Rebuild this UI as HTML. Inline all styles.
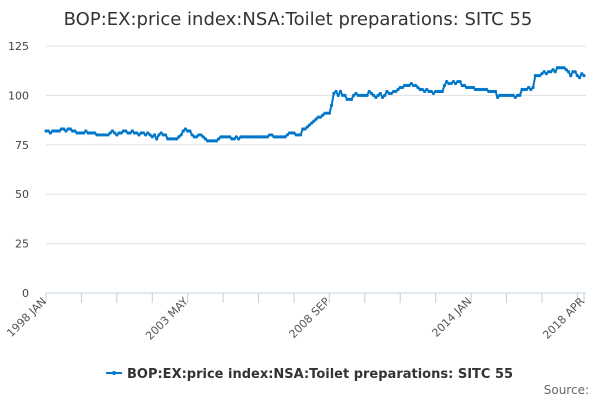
<!DOCTYPE html>
<html><head><meta charset="utf-8"><style>
body{margin:0;background:#fff;font-family:"Liberation Sans","DejaVu Sans",sans-serif}
svg text{font-family:"DejaVu Sans","Liberation Sans",sans-serif}
</style></head><body>
<svg id="c" width="600" height="400">
<text x="298" y="25" text-anchor="middle" font-size="18" fill="#333">BOP:EX:price index:NSA:Toilet preparations: SITC 55</text>
<g id="grid"></g><g id="axes"></g><g id="series"></g>
<g>
<line x1="106" y1="373" x2="122" y2="373" stroke="#0077c8" stroke-width="2"/>
<circle cx="114" cy="373" r="2" fill="#0077c8"/>
<text x="127" y="378" font-size="13" font-weight="bold" fill="#333">BOP:EX:price index:NSA:Toilet preparations: SITC 55</text>
</g>
<text x="589" y="394" text-anchor="end" font-size="12" fill="#666">Source:</text>
</svg>
<script>
const values=[82,82,81,82,82,82,82,83,83,82,83,83,
82,82,81,81,81,81,82,81,81,81,81,80,
80,80,80,80,80,81,82,81,80,81,81,82,
82,81,81,82,81,81,80,81,81,80,81,80,
79,80,78,80,81,80,80,78,78,78,78,78,
79,80,82,83,82,82,80,79,79,80,80,79,
78,77,77,77,77,77,78,79,79,79,79,79,
78,78,79,78,79,79,79,79,79,79,79,79,
79,79,79,79,79,80,80,79,79,79,79,79,
79,80,81,81,81,80,80,80,83,83,84,85,
86,87,88,89,89,90,91,91,91,95,101,102,
100,102,100,100,98,98,98,100,101,100,100,100,
100,100,102,101,100,99,100,101,99,100,102,101,
101,102,102,103,104,104,105,105,105,106,105,105,
104,103,103,102,103,102,102,101,102,102,102,102,
105,107,106,106,107,106,107,107,105,105,104,104,
104,104,103,103,103,103,103,103,102,102,102,102,
99,100,100,100,100,100,100,100,99,100,100,103,
103,103,104,103,104,110,110,110,111,112,111,112,
112,113,112,114,114,114,114,113,112,110,112,112,110,109,111,110];
const yTicks=[0,25,50,75,100,125];
const xLabels=["1998 JAN","2003 MAY","2008 SEP","2014 JAN","2018 APR"];
const xLabelIdx=[0,64,128,192,243];
const NS="http://www.w3.org/2000/svg";
const X0=46,X1=584,Y0=293,Y1=46;
const n=values.length;
function xs(i){return X0+(X1-X0)*i/243;}
function ys(v){return Y0-(Y0-Y1)*v/125;}
function mk(t,a,p){const e=document.createElementNS(NS,t);for(const k in a)e.setAttribute(k,a[k]);p.appendChild(e);return e;}
const grid=document.getElementById('grid'),axes=document.getElementById('axes'),ser=document.getElementById('series');
yTicks.forEach(v=>{
 if(v>0){const l=mk('line',{x1:X0,x2:586,y1:ys(v),y2:ys(v),stroke:'#e0e0e0'},grid);
 
 }
 const t=mk('text',{x:29,y:ys(v)+4,'text-anchor':'end','font-size':11,fill:'#444'},axes);t.textContent=v;
 
 
});
const ax=mk('line',{x1:X0,x2:586,y1:Y0,y2:Y0,stroke:'#c0d0e0'},axes);


for(let i=0;i<=243;i+=16){const tk=mk('line',{x1:xs(i),x2:xs(i),y1:Y0,y2:Y0+10,stroke:'#c0d0e0'},axes);
 
 }
const lastTk=mk('line',{x1:xs(243),x2:xs(243),y1:Y0,y2:Y0+10,stroke:'#c0d0e0'},axes);


xLabels.forEach((s,k)=>{const x=xs(xLabelIdx[k]);
 const t=mk('text',{x:x+1,y:Y0+9,'text-anchor':'end','font-size':11,fill:'#555',transform:`rotate(-45 ${x+1} ${Y0+9})`},axes);t.textContent=s;
 
 });
const pts=values.map((v,i)=>xs(i).toFixed(1)+','+ys(v).toFixed(1)).join(' ');
const pl=mk('polyline',{points:pts,fill:'none',stroke:'#0077c8','stroke-width':2},ser);


values.forEach((v,i)=>{const c=mk('circle',{cx:xs(i),cy:ys(v),r:1.6,fill:'#0077c8'},ser);
 
 });
</script>
</body></html>
